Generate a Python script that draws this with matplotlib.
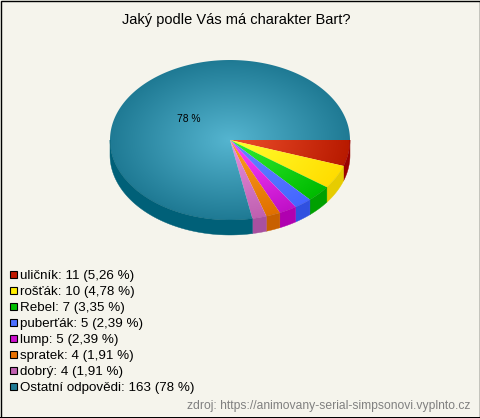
#!/usr/bin/env python3
"""Pseudo-3D poll pie, drawn in pixel coordinates on one full-figure axes."""
import matplotlib
matplotlib.use("Agg")
import matplotlib.pyplot as plt
from matplotlib.colors import LinearSegmentedColormap
from matplotlib.patches import Polygon, Rectangle
import numpy as np

plt.rcParams["font.family"] = ["Liberation Sans", "DejaVu Sans"]

TITLE = "Jaký podle Vás má charakter Bart?"
SOURCE = "zdroj: https://animovany-serial-simpsonovi.vyplnto.cz"
NAMES = ["uličník", "rošťák", "Rebel", "puberťák", "lump", "spratek", "dobrý", "Ostatní odpovědi"]
COUNTS = [11, 10, 7, 5, 5, 4, 4, 163]
PERCENTS = ["5,26", "4,78", "3,35", "2,39", "2,39", "1,91", "1,91", "78"]
INNER = ["#ee4f2c", "#ffff30", "#33ee33", "#6688ff", "#ff44ff", "#ffa020", "#e890e0", "#55b5d0"]
OUTER = ["#b81a00", "#ffdd00", "#00bb00", "#4466ff", "#c010c8", "#e07000", "#c060b0", "#1f7a94"]
SIDE = ["#990000", "#e6cc00", "#00a000", "#3050e0", "#b000b0", "#c86000", "#a850a0", "#006078"]
KEY = ["#c01800", "#ffee00", "#00c000", "#4d70ff", "#cc10cc", "#e87000", "#c060b0", "#1f7a94"]

BG = "#f5f4ec"
CX, CY, RX, RY, DEPTH = 230, 140, 120, 80, 15

fig = plt.figure(figsize=(4.8, 4.18), dpi=100, facecolor=BG)
ax = fig.add_axes([0, 0, 1, 1])
ax.set_xlim(0, 480)
ax.set_ylim(418, 0)
ax.axis("off")


def arc(a0, a1, n=80):
    t = np.radians(np.linspace(a0, a1, n))
    return np.column_stack([CX + RX * np.cos(t), CY + RY * np.sin(t)])


edges = np.concatenate([[0], np.cumsum(COUNTS)]) / sum(COUNTS) * 360

# side band, only the front half of the disc shows
for i in range(len(COUNTS)):
    a0, a1 = edges[i], min(edges[i + 1], 180)
    if a0 >= 180:
        continue
    top = arc(a0, a1)
    low = top[::-1] + [0, DEPTH]
    ax.add_patch(Polygon(np.vstack([top, low]), closed=True, fc=SIDE[i], ec=SIDE[i], lw=0.3))

# top face, one radial gradient per slice
xx, yy = np.meshgrid(np.linspace(CX - RX, CX + RX, 480), np.linspace(CY - RY, CY + RY, 320))
rad = np.clip(np.hypot((xx - CX) / RX, (yy - CY) / RY), 0, 1)
for i in range(len(COUNTS)):
    pts = np.vstack([[CX, CY], arc(edges[i], edges[i + 1], 200)])
    poly = Polygon(pts, closed=True, fc="none", ec="none", transform=ax.transData)
    ax.add_patch(poly)
    cmap = LinearSegmentedColormap.from_list("s", [INNER[i], OUTER[i]])
    im = ax.imshow(rad, cmap=cmap, vmin=0, vmax=1, aspect="auto", interpolation="bilinear",
                   extent=(CX - RX, CX + RX, CY + RY, CY - RY))
    im.set_clip_path(poly)
ax.set_xlim(0, 480)
ax.set_ylim(418, 0)

ax.text(236.5, 20, TITLE, ha="center", va="center", fontsize=10.5, color="black")
ax.text(189, 119, f"{PERCENTS[-1]} %", ha="center", va="center", fontsize=7.4, color="black")

# legend
for i, name in enumerate(NAMES):
    y = 274 + 16 * i
    ax.add_patch(Rectangle((9.5, y - 3.5), 7.5, 7.5, fc=KEY[i], ec="black", lw=0.8))
    ax.text(20, y + 1.5, f"{name}: {COUNTS[i]} ({PERCENTS[i]} %)", ha="left", va="center",
            fontsize=9.6, color="black")

ax.text(470, 405.5, SOURCE, ha="right", va="center", fontsize=8.7, color="#808080")

ax.add_patch(Rectangle((0.5, 0.5), 479, 417, fc="none", ec="black", lw=1.0))
ax.add_patch(Rectangle((0, 416.5), 480, 1.5, fc="black", ec="none"))

fig.savefig("out.png", dpi=100, facecolor=BG)
